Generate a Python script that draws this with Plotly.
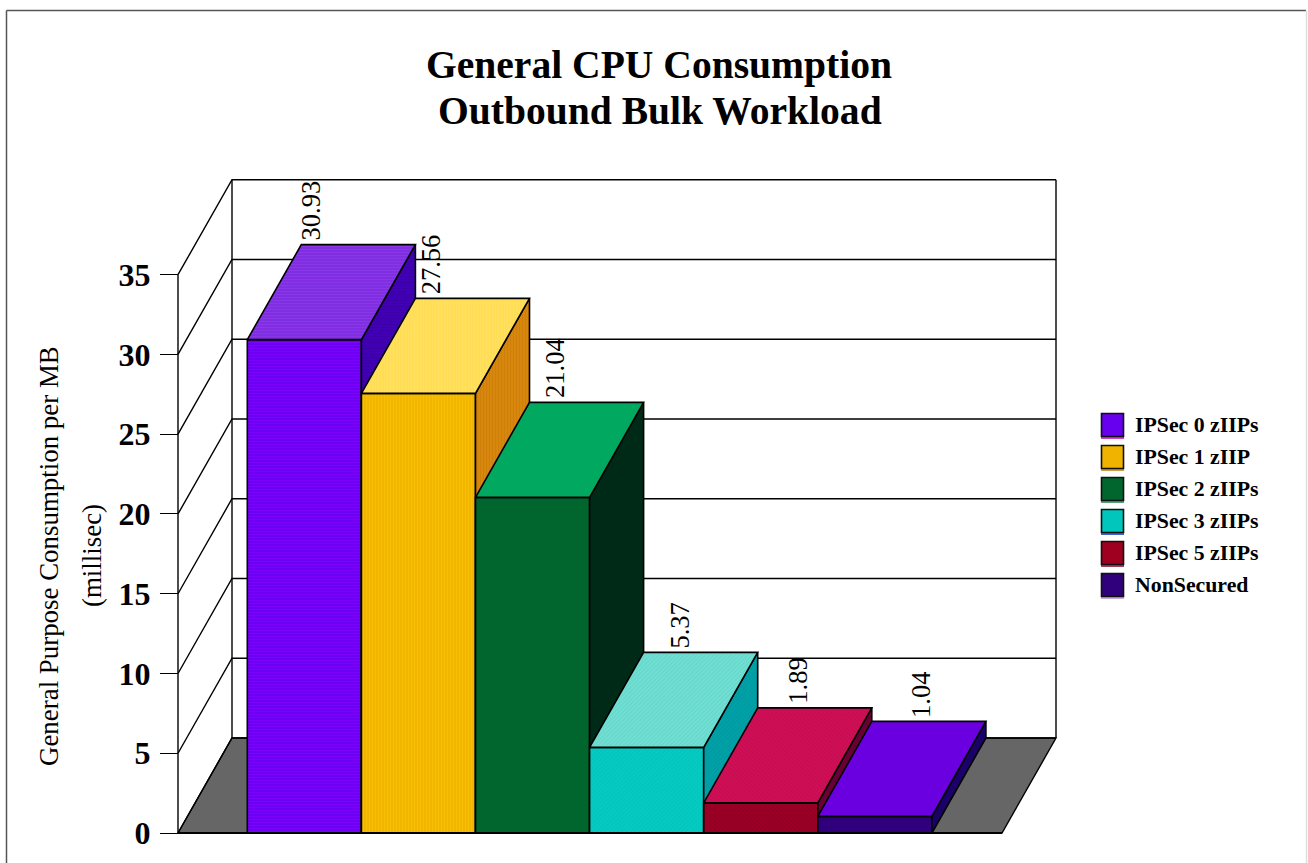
import plotly.graph_objects as go

# Chart data
series = ["IPSec 0 zIIPs", "IPSec 1 zIIP", "IPSec 2 zIIPs", "IPSec 3 zIIPs", "IPSec 5 zIIPs", "NonSecured"]
consumption = [30.93, 27.56, 21.04, 5.37, 1.89, 1.04]
value_labels = ["30.93", "27.56", "21.04", "5.37", "1.89", "1.04"]
y_ticks = [0, 5, 10, 15, 20, 25, 30, 35]

# Face colours per bar
front_colors = ["#6600ee", "#f0b400", "#00662e", "#00c6bc", "#a00020", "#30007c"]
front_stripes = ["#8000ff", "#f8be00", "#006a30", "#08ccc4", "#900028", "#380088"]
top_colors = ["#7a2ce0", "#ffdc50", "#00a860", "#66d8cc", "#d01058", "#6a00e0"]
top_stripes = ["#8c36e8", "#ffe060", "#00a860", "#74e0d4", "#c80c50", "#7000e8"]
side_colors = ["#4400b8", "#d98a0c", "#002a18", "#009aa2", "#660032", "#1a0068"]
side_stripes = ["#3c00a8", "#cf800c", "#002a18", "#00a2a8", "#6c0038", "#1a0068"]
patterns = ["-", "|", "", "/", "\\", ""]
swatch_edges = ["#c000c0", "#c07800", "#208050", "#0030c0", "#800020", "#b090d0"]

# Canvas and plot-area geometry
W, H = 1308, 863
FONT = "Liberation Serif"
LEFT, RIGHT, ZERO, TOP35 = 178, 1002, 833, 274.7
BAR0_LEFT, BAR_STEP = 247.3, 114.1
Y_SCALE = (ZERO - TOP35) / 35      # pixels per value unit
DEPTH_X = 54 / BAR_STEP            # receding offset, in bar widths
DEPTH_Y = 95 / Y_SCALE             # receding offset, in value units
x_lo = (LEFT - BAR0_LEFT) / BAR_STEP
x_hi = (RIGHT - BAR0_LEFT) / BAR_STEP
y_top = y_ticks[-1]

# The plot area is padded so that strokes on the outer edges are not clipped
AREA_L, AREA_R, AREA_T, AREA_B = 170, 1066, 170, 841


def px(x):
    return x / W


def py(y):
    return 1 - y / H


fig = go.Figure()


def polygon(xs, ys, fill, stripe=None, shape="", name=None, width=1.6):
    kw = {}
    if shape:
        kw["fillpattern"] = dict(shape=shape, fgcolor=stripe, bgcolor=fill,
                                 size=3, solidity=0.5, fillmode="replace")
    fig.add_trace(go.Scatter(
        x=xs + xs[:1], y=ys + ys[:1], mode="lines", fill="toself", fillcolor=fill,
        line=dict(color="black", width=width), showlegend=False, name=name, **kw))


# Floor
polygon([x_lo, x_hi, x_hi + DEPTH_X, x_lo + DEPTH_X], [0, 0, DEPTH_Y, DEPTH_Y], "#666666", width=1.4)

# Back wall and side wall rules at each tick value
wall_x, wall_y = [], []
for t in y_ticks:
    wall_x += [x_lo, x_lo + DEPTH_X, x_hi + DEPTH_X, None]
    wall_y += [t, t + DEPTH_Y, t + DEPTH_Y, None]
wall_x += [x_lo, x_lo, None, x_lo + DEPTH_X, x_lo + DEPTH_X, None, x_hi + DEPTH_X, x_hi + DEPTH_X]
wall_y += [0, y_top, None, DEPTH_Y, y_top + DEPTH_Y, None, DEPTH_Y, y_top + DEPTH_Y]
fig.add_trace(go.Scatter(x=wall_x, y=wall_y, mode="lines",
                         line=dict(color="black", width=1.4), showlegend=False, name="walls"))

# Extruded bars, painted left to right
for i, v in enumerate(consumption):
    x0, x1 = i, i + 1
    polygon([x0, x1, x1, x0], [0, 0, v, v], front_colors[i], front_stripes[i], patterns[i], series[i])
    polygon([x1, x1 + DEPTH_X, x1 + DEPTH_X, x1], [0, DEPTH_Y, v + DEPTH_Y, v],
            side_colors[i], side_stripes[i], patterns[i], series[i])
    polygon([x0, x1, x1 + DEPTH_X, x0 + DEPTH_X], [v, v, v + DEPTH_Y, v + DEPTH_Y],
            top_colors[i], top_stripes[i], patterns[i], series[i])

# Heavy front edge of the floor
fig.add_trace(go.Scatter(x=[x_lo, x_hi], y=[0, 0], mode="lines",
                         line=dict(color="black", width=2.2), showlegend=False, name="baseline"))

# Rotated value labels above the back edge of each bar
label_nudge = [-1.5, -3, 0, 3, -1, 1]
annotations = []
for i, (v, label) in enumerate(zip(consumption, value_labels)):
    annotations.append(dict(
        x=0.57 + 1.066 * i, y=v + DEPTH_Y, xref="x", yref="y", text=label, textangle=-90,
        showarrow=False, yanchor="bottom", xanchor="center", yshift=2, xshift=label_nudge[i],
        font=dict(family=FONT, size=26.5, color="black")))

# Second title line and the two rotated axis title lines
annotations.append(dict(
    x=px(660), y=py(111), xref="paper", yref="paper", text="<b>Outbound Bulk Workload</b>",
    showarrow=False, xanchor="center", yanchor="middle",
    font=dict(family=FONT, size=39.6, color="black")))
for text, line_x in [("General Purpose Consumption per MB", 49), ("(millisec)", 92)]:
    annotations.append(dict(
        x=px(line_x), y=py(556), xref="paper", yref="paper", textangle=-90, text=text,
        showarrow=False, xanchor="center", yanchor="middle",
        font=dict(family=FONT, size=26.9, color="black")))

# Legend block
shapes = []
for i, name in enumerate(series):
    cy = 425 + 32 * i
    shapes.append(dict(type="line", xref="paper", yref="paper", layer="below",
                       x0=px(1101), x1=px(1124), y0=py(cy + 13), y1=py(cy + 13),
                       line=dict(color=swatch_edges[i], width=1.5)))
    shapes.append(dict(type="rect", xref="paper", yref="paper",
                       x0=px(1101.5), x1=px(1123.5), y0=py(cy - 11.5), y1=py(cy + 11.5),
                       fillcolor=front_colors[i], line=dict(color="#111111", width=1.6)))
    annotations.append(dict(
        x=px(1133), y=py(cy), xref="paper", yref="paper", text=f"<b>{name}</b>",
        showarrow=False, xanchor="left", yanchor="middle",
        font=dict(family=FONT, size=21.8, color="black")))

# Page frame
shapes += [
    dict(type="line", xref="paper", yref="paper", x0=px(6.5), x1=px(6.5), y0=py(10.5), y1=0,
         line=dict(color="#555555", width=1.5)),
    dict(type="line", xref="paper", yref="paper", x0=px(6.5), x1=px(1306), y0=py(10.5), y1=py(10.5),
         line=dict(color="#555555", width=1.5)),
    dict(type="line", xref="paper", yref="paper", x0=px(1306.5), x1=px(1306.5), y0=py(10.5), y1=0,
         line=dict(color="#dddddd", width=1.5)),
]

fig.update_layout(
    template="none", width=W, height=H, margin=dict(l=0, r=0, t=0, b=0, pad=0), autosize=False,
    paper_bgcolor="white", plot_bgcolor="white", showlegend=False,
    title=dict(text="<b>General CPU Consumption</b>",
               x=px(659), xanchor="center", xref="paper", y=py(64), yanchor="middle", yref="paper",
               automargin=False, font=dict(family=FONT, size=39.6, color="black")),
    xaxis=dict(domain=[px(AREA_L), px(AREA_R)],
               range=[(AREA_L - BAR0_LEFT) / BAR_STEP, (AREA_R - BAR0_LEFT) / BAR_STEP],
               visible=False, automargin=False),
    yaxis=dict(domain=[py(AREA_B), py(AREA_T)],
               range=[(ZERO - AREA_B) / Y_SCALE, (ZERO - AREA_T) / Y_SCALE],
               anchor="free", position=px(LEFT), automargin=False,
               tickmode="array", tickvals=y_ticks, ticktext=[f"<b>{t}</b>" for t in y_ticks],
               ticks="outside", ticklen=18, tickwidth=1.4, tickcolor="black", ticklabelstandoff=3,
               showgrid=False, zeroline=False, showline=False,
               tickfont=dict(family=FONT, size=32, color="black")),
    annotations=annotations, shapes=shapes,
)

fig.write_html("out.html")
